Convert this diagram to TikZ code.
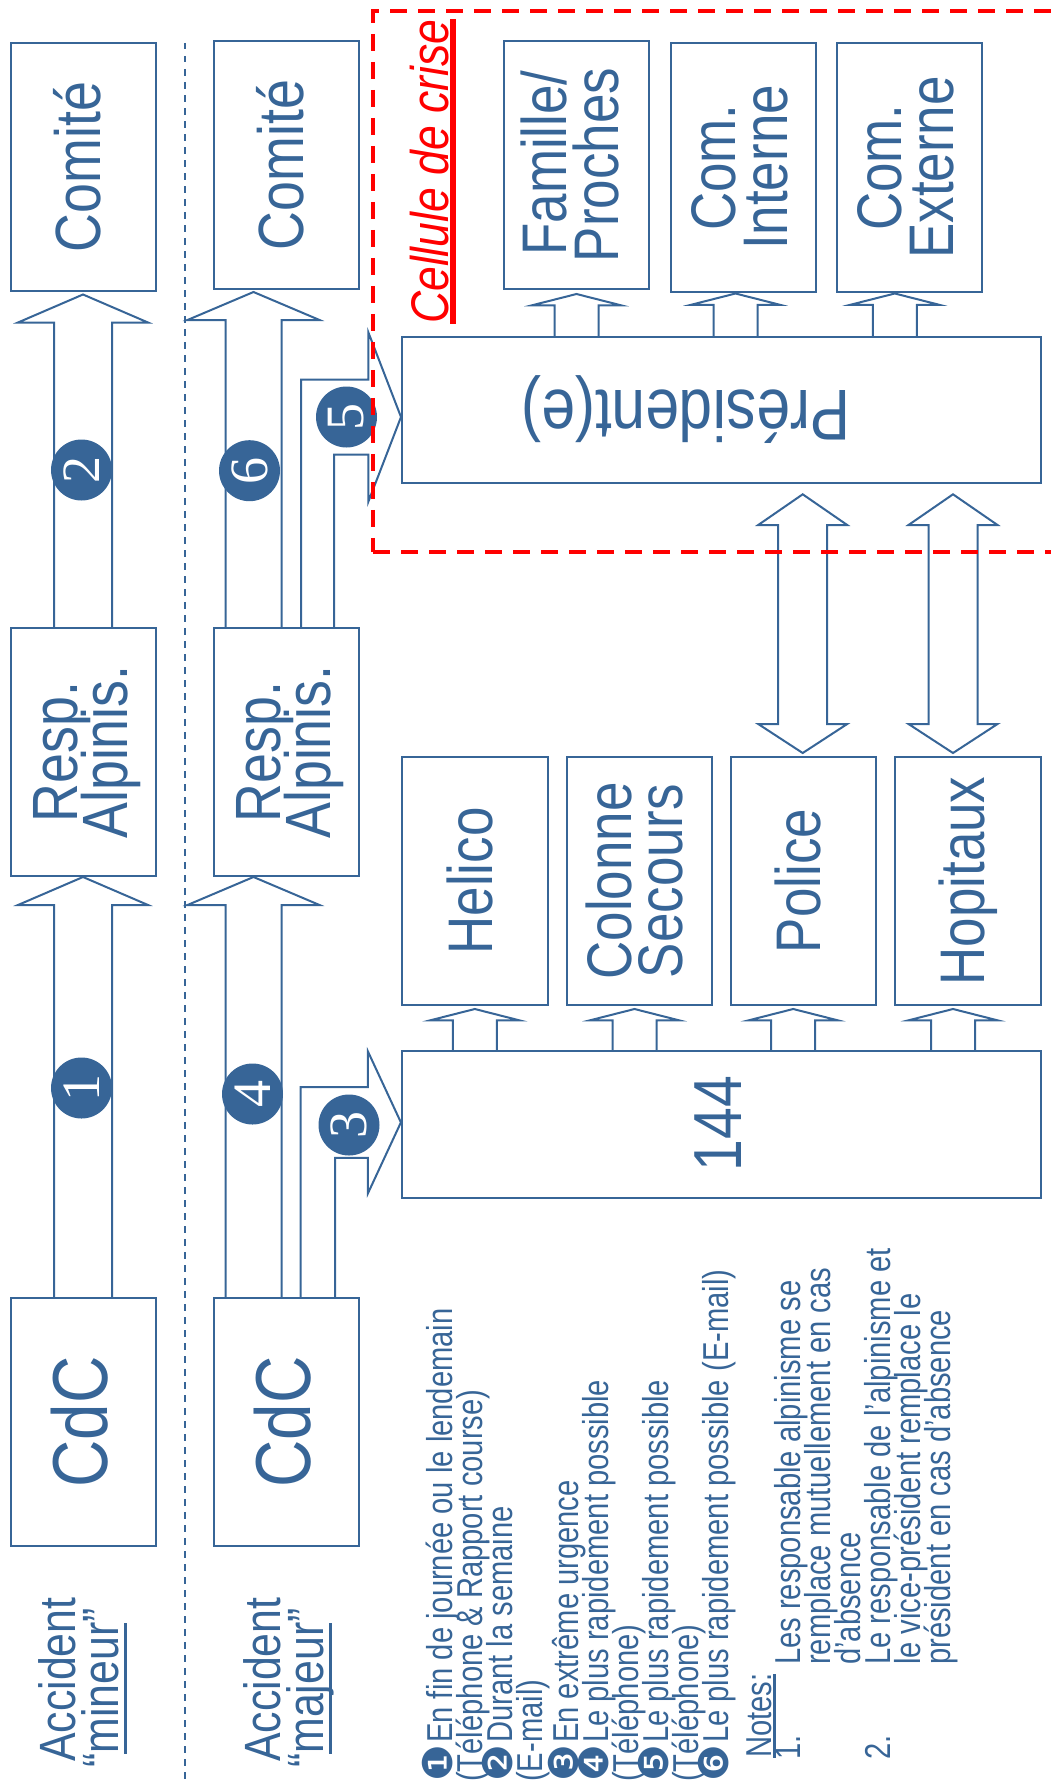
\documentclass[tikz,border=0pt]{standalone}
\usepackage{fontspec}
\setmainfont{Liberation Sans}
\newfontfamily\bxf[FakeStretch=0.84]{Liberation Sans}
\newfontfamily\lgf[FakeStretch=0.81]{Liberation Sans}
\newfontfamily\dgf{DejaVu Sans}
\newfontfamily\sef{Liberation Serif}
\usetikzlibrary{calc}
\definecolor{bl}{RGB}{55,101,151}
\definecolor{rd}{RGB}{255,0,0}
\newcommand\myul[3]{\leavevmode\setbox0=\hbox{#3}\rlap{\rule[-#1]{\wd0}{#2}}\box0}
% vertical block arrow: base, tip, dx, shaft half, head half, head length, tip gap
\newcommand\blkup[7]{\draw[blk] ($(#1)+(#3-#4,0)$) -- ($(#2)+(#3-#4,#7+#6)$) -- ($(#2)+(#3-#5,#7+#6)$) -- ($(#2)+(#3,#7)$) -- ($(#2)+(#3+#5,#7+#6)$) -- ($(#2)+(#3+#4,#7+#6)$) -- ($(#1)+(#3+#4,0)$);}
% double block arrow: top ref, bottom ref, dx, shaft half, head half, top head len, bottom head len, top gap, bottom gap
\newcommand\blkdbl[9]{\draw[blk] ($(#1)+(#3,#8)$) -- ($(#1)+(#3+#5,#8+#6)$) -- ($(#1)+(#3+#4,#8+#6)$) -- ($(#2)+(#3+#4,-#9-#7)$) -- ($(#2)+(#3+#5,-#9-#7)$) -- ($(#2)+(#3,-#9)$) -- ($(#2)+(#3-#5,-#9-#7)$) -- ($(#2)+(#3-#4,-#9-#7)$) -- ($(#1)+(#3-#4,#8+#6)$) -- ($(#1)+(#3-#5,#8+#6)$) -- cycle;}
% bent block arrow: base (box top), target west, dx outer, dx inner, dy, shaft half, head half, head length
\newcommand\blkbent[8]{\draw[blk] ($(#1)+(#3,0)$) -- ($(#1 |- #2)+(#3,#5-#6)$) -- ($(#2)+(-#8,#5-#6)$) -- ($(#2)+(-#8,#5-#7)$) -- ($(#2)+(0,#5)$) -- ($(#2)+(-#8,#5+#7)$) -- ($(#2)+(-#8,#5+#6)$) -- ($(#1 |- #2)+(#4,#5+#6)$) -- ($(#1)+(#4,0)$);}
\begin{document}
\begin{tikzpicture}[x=1pt,y=-1pt,
  box/.style={draw=bl,line width=2pt,inner sep=0pt,minimum width=145pt,minimum height=248pt},
  lbl/.style={text=bl,inner sep=0pt,rotate=90,anchor=base,font=\bxf\fontsize{64}{64}\selectfont},
  tlbl/.style={lbl,font=\bxf\fontsize{63}{63}\selectfont},
  blk/.style={draw=bl,line width=2pt,line join=miter},
  badge/.style={circle,fill=bl,minimum size=61pt,inner sep=0pt,text=white,font=\sef\fontsize{54}{54}\selectfont,rotate=90},
  leg/.style={text=bl,inner sep=0pt,rotate=90,anchor=base west,font=\lgf\fontsize{36}{36}\selectfont},
  acc/.style={text=bl,inner sep=0pt,rotate=90,anchor=base west,font=\bxf\fontsize{51}{51}\selectfont},
]
\useasboundingbox (0,0) rectangle (1051,1785);
% separator
\coordinate (sepTop) at (185,43);
\coordinate (sepBot) at (185,1790);
\draw[bl,line width=2pt,dash pattern=on 6.5pt off 6.5pt] (sepTop) -- (sepBot);
% column 1
\node[box] (comite1) at (83.5,167) {};
\node[box] (resp1) at (83.5,752) {};
\node[box] (cdc1) at (83.5,1422) {};
% column 2
\node[box] (comite2) at (286.5,165) {};
\node[box] (resp2) at (286.5,752) {};
\node[box] (cdc2) at (286.5,1422) {};
% right area
\node[box] (famille) at (576.5,165) {};
\node[box] (interne) at (743.5,167.5) {};
\node[box] (externe) at (909.8,167.5) {};
\node[box,minimum width=639pt,minimum height=146pt] (president) at (721.5,410) {};
\node[box,minimum width=146pt] (helico) at (474.8,881) {};
\node[box] (colonne) at (639.5,881) {};
\node[box] (police) at (803.2,881) {};
\node[box,minimum width=146pt] (hopitaux) at (968,881) {};
\node[box,minimum width=639pt,minimum height=147pt] (urg) at (721.4,1124.4) {};
% labels
\node[lbl] (tcomite1) at ($(comite1.center)+(16.5,0)$) {Comité};
\node[lbl] (tresp1a) at ($(resp1.center)+(-6.5,0)$) {Resp.};
\node[lbl] (tresp1b) at ($(resp1.center)+(43.5,0)$) {Alpinis.};
\node[lbl,font=\bxf\fontsize{78}{78}\selectfont] (tcdc1) at ($(cdc1.center)+(23.5,0)$) {CdC};
\node[lbl] (tcomite2) at ($(comite2.center)+(16.5,0)$) {Comité};
\node[lbl] (tresp2a) at ($(resp2.center)+(-6.5,0)$) {Resp.};
\node[lbl] (tresp2b) at ($(resp2.center)+(43.5,0)$) {Alpinis.};
\node[lbl,font=\bxf\fontsize{78}{78}\selectfont] (tcdc2) at ($(cdc2.center)+(23.5,0)$) {CdC};
\node[tlbl] (tfam1) at ($(famille.center)+(-10.5,-2)$) {Famille/};
\node[tlbl] (tfam2) at ($(famille.center)+(42,0)$) {Proches};
\node[tlbl] (tint1) at ($(interne.center)+(-8,0)$) {Com.};
\node[tlbl] (tint2) at ($(interne.center)+(44,0)$) {Interne};
\node[tlbl] (text1) at ($(externe.center)+(-8.8,0)$) {Com.};
\node[tlbl] (text2) at ($(externe.center)+(44,0)$) {Externe};
\node[lbl,rotate=90,font=\bxf\fontsize{72}{72}\selectfont] (tpres) at ($(president.center)+(-35.5,-20)$) {Président(e)};
\node[tlbl] (thel) at ($(helico.center)+(17.2,0)$) {Helico};
\node[tlbl] (tcol1) at ($(colonne.center)+(-7.9,0)$) {Colonne};
\node[tlbl] (tcol2) at ($(colonne.center)+(42.9,0)$) {Secours};
\node[tlbl] (tpol) at ($(police.center)+(17.6,0)$) {Police};
\node[tlbl] (thop) at ($(hopitaux.center)+(16.5,0)$) {Hopitaux};
\node[lbl,font=\bxf\fontsize{68}{68}\selectfont] (turg) at ($(urg.center)+(20.2,-1)$) {144};
% arrows column 1
\blkup{cdc1.north}{resp1.south}{-0.5}{29}{65}{28}{0}
\blkup{resp1.north}{comite1.south}{-0.5}{29}{65}{28}{2.5}
% arrows column 2
\blkup{cdc2.north}{resp2.south}{-33}{28}{66}{28}{0}
\blkup{resp2.north}{comite2.south}{-33}{28}{66}{28}{2}
\blkbent{resp2.north}{president.west}{14.5}{47.5}{7}{37.5}{84.5}{32.6}
\blkbent{cdc2.north}{urg.west}{14.2}{48.5}{-2}{35.4}{71}{33}
% small arrows
\blkup{famille.south |- president.north}{famille.south}{0}{22}{44.5}{11.3}{4}
\blkup{interne.south |- president.north}{interne.south}{-8}{22}{44.5}{11.3}{1}
\blkup{externe.south |- president.north}{externe.south}{-15}{22}{44.5}{11.3}{1}
\blkup{helico.south |- urg.north}{helico.south}{0}{22}{44.5}{11.3}{3}
\blkup{colonne.south |- urg.north}{colonne.south}{-5}{22}{44.5}{11.3}{3}
\blkup{police.south |- urg.north}{police.south}{-10}{22}{44.5}{11.3}{3}
\blkup{hopitaux.south |- urg.north}{hopitaux.south}{-15}{22}{44.5}{11.3}{3}
% double arrows
\blkdbl{police.north |- president.south}{police.north}{-0.5}{24.5}{44.5}{30.7}{29}{10.3}{3}
\blkdbl{hopitaux.north |- president.south}{hopitaux.north}{-15}{24.5}{44.5}{30.7}{29}{10.3}{3}
% badges
\node[badge] (b1) at (81.5,1088) {1};
\node[badge] (b2) at (81.5,470) {2};
\node[badge] (b3) at (349,1125) {3};
\node[badge] (b4) at (252.5,1094) {4};
\node[badge] (b5) at (346.5,417) {5};
\node[badge] (b6) at (249.5,470.7) {6};
% accident labels
\node[acc] (acc1a) at (75,1762) {Accident};
\node[acc] (acc1b) at (118.3,1768) {“\myul{8.2pt}{3pt}{mineur}”};
\node[acc] (acc2a) at (280,1762) {Accident};
\node[acc] (acc2b) at (323.3,1768) {“\myul{8.2pt}{3pt}{majeur}”};
% cellule de crise
\node[text=rd,inner sep=0pt,rotate=90,anchor=base west,font=\bxf\itshape\fontsize{53}{53}\selectfont] (tcell) at (448.5,324) {\myul{7.5pt}{6pt}{Cellule de crise}};
\node[draw=rd,line width=4pt,dash pattern=on 17pt off 11pt,minimum width=726.7pt,minimum height=540.2pt,inner sep=0pt] (cellule) at (736.65,281.6) {};
% legend
\newcommand\bdg[1]{\makebox[39pt][l]{\dgf\fontsize{41}{41}\selectfont #1}}
\node[leg] (leg1) at (452,1782) {\bdg{❶}En fin de journée ou le lendemain};
\node[leg] (leg2) at (482,1782) {(Téléphone \& Rapport course)};
\node[leg] (leg3) at (512,1782) {\bdg{❷}Durant la semaine};
\node[leg] (leg4) at (542,1782) {(E-mail)};
\node[leg] (leg5) at (578,1782) {\bdg{❸}En extrême urgence};
\node[leg] (leg6) at (608,1782) {\bdg{❹}Le plus rapidement possible};
\node[leg] (leg7) at (638,1782) {(Téléphone)};
\node[leg] (leg8) at (668,1782) {\bdg{❺}Le plus rapidement possible};
\node[leg] (leg9) at (698,1782) {(Téléphone)};
\node[leg] (leg10) at (728,1782) {\bdg{❻}Le plus rapidement possible (E-mail)};
\node[leg] (notes) at (771.7,1758) {\myul{3.9pt}{2.6pt}{Notes:}};
\node[leg] (n1) at (800,1760) {1.};
\node[leg] (n1a) at (800,1665) {Les responsable alpinisme se};
\node[leg] (n1b) at (830,1665) {remplace mutuellement en cas};
\node[leg] (n1c) at (860,1665) {d’absence};
\node[leg] (n2) at (890,1760) {2.};
\node[leg] (n2a) at (890,1665) {Le responsable de l’alpinisme et};
\node[leg] (n2b) at (920,1665) {le vice-président remplace le};
\node[leg] (n2c) at (950,1665) {président en cas d’absence};
\end{tikzpicture}
\end{document}
